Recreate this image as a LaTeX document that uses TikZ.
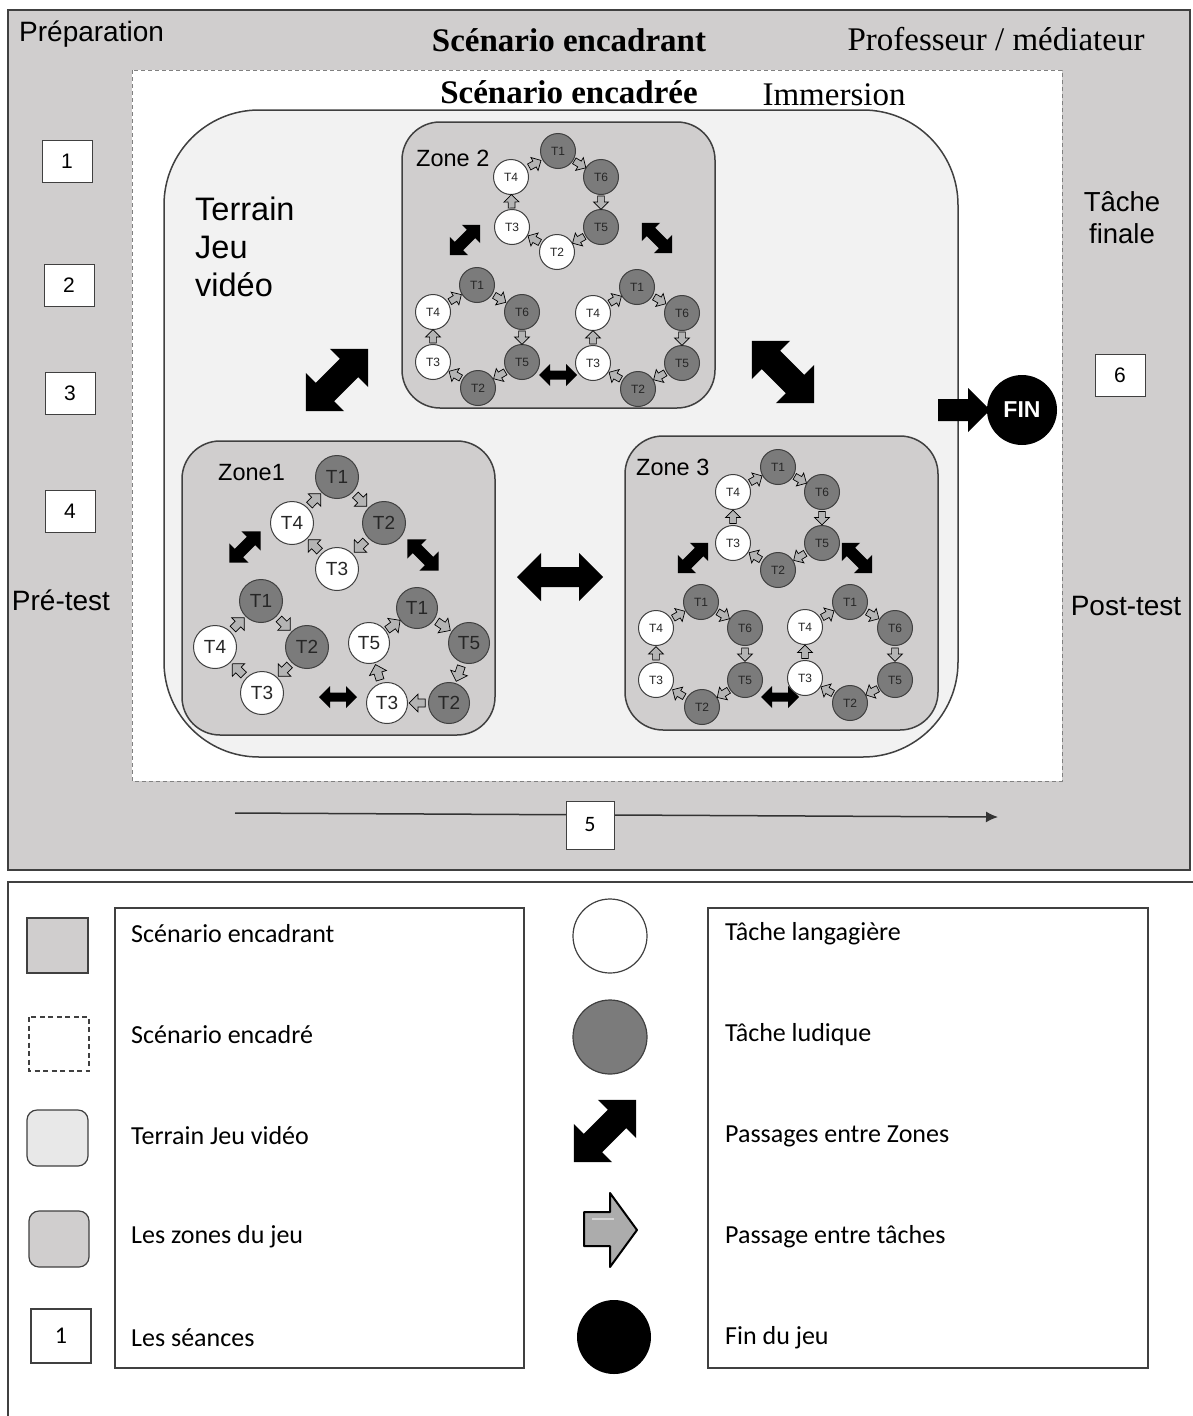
\documentclass[tikz,border=0pt]{standalone}
\usepackage{fontspec}
\setmainfont{Liberation Serif}
\newfontfamily\arialf{Liberation Sans}
\newfontfamily\calf{Carlito}
\usetikzlibrary{calc,decorations.markings,arrows.meta}
\definecolor{frameg}{HTML}{D0CECE}
\definecolor{terr}{HTML}{F2F2F2}
\definecolor{terrlg}{HTML}{E8E8E8}
\definecolor{darkt}{HTML}{7B7B7B}
\definecolor{edge}{HTML}{404040}
\definecolor{lnk}{HTML}{B4B4B4}
\newcommand\fsz[2]{\fontsize{#1}{#2}\selectfont}
\tikzset{
  task/.style={circle, draw=edge, line width=1pt, inner sep=0pt, text=black!85},
  tw/.style={task, fill=white},
  td/.style={task, fill=darkt},
  tsm/.style={minimum size=35pt, font=\arialf\fsz{12}{12}},
  tbg/.style={minimum size=43pt, font=\arialf\fsz{19}{19}},
  numbox/.style={draw=edge, fill=white, line width=1pt, minimum width=50pt, minimum height=42pt, inner sep=0pt, font=\arialf\fsz{21}{21}},
  zonebox/.style={draw=edge, fill=frameg, line width=1.5pt, rounded corners=38pt},
  lgtext/.style={anchor=west, inner sep=0pt, font=\calf\fsz{26}{26}},
}
\newcommand\tk[5]{\node[#4] (#1) at (#2,#3) {#5};}
\newcommand\tl[3][1.35]{\path[postaction={decorate},decoration={markings,mark=at position 0.5 with {\draw[draw=black,fill=lnk,line width=0.7pt,scale=#1] (-4.5pt,-2.5pt) -- (0pt,-2.5pt) -- (0pt,-5.5pt) -- (5.5pt,0pt) -- (0pt,5.5pt) -- (0pt,2.5pt) -- (-4.5pt,2.5pt) -- cycle;}}] (#2) -- (#3);}
% double block arrow: x y angle L H S
\newcommand\dbl[6]{\fill[black, shift={(#1,#2)}, rotate=#3] ({-#4/2},0) -- ({-#4/2+#5/2},{#5/2}) -- ({-#4/2+#5/2},{#6/2}) -- ({#4/2-#5/2},{#6/2}) -- ({#4/2-#5/2},{#5/2}) -- ({#4/2},0) -- ({#4/2-#5/2},{-#5/2}) -- ({#4/2-#5/2},{-#6/2}) -- ({-#4/2+#5/2},{-#6/2}) -- ({-#4/2+#5/2},{-#5/2}) -- cycle;}
\begin{document}
\begin{tikzpicture}[x=1pt,y=-1pt]
\useasboundingbox (0,0) rectangle (1192,1416);
\fill[white] (0,0) rectangle (1192,1416);
% main frame
\draw[edge, fill=frameg, line width=1.5pt] (8,10) rectangle (1190,870);
\draw[draw=gray, fill=white, line width=1pt, dash pattern=on 4pt off 3pt] (132,70) rectangle (1062,781);
\draw[edge, fill=terr, line width=1.5pt, rounded corners=95pt] (164,110) rectangle (958,757);
% titles
\node[anchor=west, inner sep=0pt, font=\arialf\fsz{28}{28}] (prep) at (19,34) {Préparation};
\node[font=\bfseries\fsz{33}{33}] (senc) at (569,40) {Scénario encadrant};
\node[font=\fsz{33}{33}] (prof) at (996,39) {Professeur / médiateur};
\node[font=\bfseries\fsz{33}{33}] (sencd) at (569,92) {Scénario encadrée};
\node[font=\fsz{33}{33}] (imm) at (834,95) {Immersion};
\node[anchor=west, inner sep=0pt, align=left, font=\arialf\fsz{32.5}{38}] (terrt) at (195,247) {Terrain\\Jeu\\vidéo};
\node[align=center, font=\arialf\fsz{27.5}{32}] (tfin) at (1122,218) {Tâche\\finale};
\node[font=\arialf\fsz{28}{28}] (pre) at (61,600) {Pré-test};
\node[font=\arialf\fsz{28}{28}] (post) at (1126,606) {Post-test};
% session boxes
\node[numbox] (s1) at (67,161) {1};
\node[numbox] (s2) at (69,285.5) {2};
\node[numbox] (s3) at (70,393) {3};
\node[numbox] (s4) at (70,511) {4};
\node[numbox] (s6) at (1120,375.5) {6};
\coordinate (tl0) at (235,813);
\coordinate (tl1) at (998,817);
\draw[line width=1.5pt, draw=black!80, -{Latex[length=12pt,width=11pt]}] (tl0) -- (tl1);
\node[numbox, minimum width=48pt, minimum height=48pt, font=\calf\fsz{22}{22}] (s5) at (590,825) {5};
% zones
\draw[zonebox] (402,122) rectangle (715,408);
\draw[zonebox] (182,441) rectangle (495,735);
\draw[zonebox] (625,436) rectangle (938,730);
\node[anchor=west, inner sep=0pt, font=\arialf\fsz{23.5}{23.5}] (z2t) at (416,158) {Zone 2};
\node[anchor=west, inner sep=0pt, font=\arialf\fsz{23.5}{23.5}] (z1t) at (218,473) {Zone1};
\node[anchor=west, inner sep=0pt, font=\arialf\fsz{23.5}{23.5}] (z3t) at (636,467) {Zone 3};
% big passages between zones
\dbl{337}{380}{45}{88}{54}{26}
\dbl{783}{372}{-45}{88}{54}{26}
\dbl{560}{577}{0}{86}{48}{20}
% end arrow and FIN
\fill[black] (938,399) -- (968,399) -- (968,388) -- (990,410) -- (968,432) -- (968,421) -- (938,421) -- cycle;
\node[circle, fill=black, minimum size=70pt, inner sep=0pt, text=white, font=\arialf\bfseries\fsz{23}{23}] (fin) at (1022,410) {FIN};
% ---------- Zone 2 ----------
\dbl{465}{240}{45}{43}{26}{12}
\dbl{657}{238}{-45}{43}{26}{12}
\dbl{558}{375}{0}{38}{22}{9}
\tk{za1}{558}{151}{td,tsm}{T1}
\tk{za6}{601}{177}{td,tsm}{T6}
\tk{za5}{601}{227}{td,tsm}{T5}
\tk{za2}{557}{252}{tw,tsm}{T2}
\tk{za3}{512}{227}{tw,tsm}{T3}
\tk{za4}{511}{177}{tw,tsm}{T4}
\tl{za1}{za6}\tl{za6}{za5}\tl{za5}{za2}\tl{za2}{za3}\tl{za3}{za4}\tl{za4}{za1}
\tk{zb1}{477}{285}{td,tsm}{T1}
\tk{zb6}{522}{312}{td,tsm}{T6}
\tk{zb5}{522}{362}{td,tsm}{T5}
\tk{zb2}{478}{388}{td,tsm}{T2}
\tk{zb3}{433}{362}{tw,tsm}{T3}
\tk{zb4}{433}{312}{tw,tsm}{T4}
\tl{zb1}{zb6}\tl{zb6}{zb5}\tl{zb5}{zb2}\tl{zb2}{zb3}\tl{zb3}{zb4}\tl{zb4}{zb1}
\tk{zc1}{637}{287}{td,tsm}{T1}
\tk{zc6}{682}{313}{td,tsm}{T6}
\tk{zc5}{682}{363}{td,tsm}{T5}
\tk{zc2}{638}{389}{td,tsm}{T2}
\tk{zc3}{593}{363}{tw,tsm}{T3}
\tk{zc4}{593}{313}{tw,tsm}{T4}
\tl{zc1}{zc6}\tl{zc6}{zc5}\tl{zc5}{zc2}\tl{zc2}{zc3}\tl{zc3}{zc4}\tl{zc4}{zc1}
% ---------- Zone 1 ----------
\dbl{245}{547}{45}{44}{27}{12}
\dbl{423}{555}{-45}{44}{27}{12}
\dbl{338}{697}{0}{38}{22}{9}
\tk{ya1}{337}{477}{td,tbg}{T1}
\tk{ya2}{384}{523}{td,tbg}{T2}
\tk{ya3}{337}{569}{tw,tbg}{T3}
\tk{ya4}{292}{523}{tw,tbg}{T4}
\tl[1.6]{ya1}{ya2}\tl[1.6]{ya2}{ya3}\tl[1.6]{ya3}{ya4}\tl[1.6]{ya4}{ya1}
\tk{yb1}{261}{601}{td,tbg}{T1}
\tk{yb2}{307}{647}{td,tbg}{T2}
\tk{yb3}{262}{693}{tw,tbg}{T3}
\tk{yb4}{215}{647}{tw,tbg}{T4}
\tl[1.6]{yb1}{yb2}\tl[1.6]{yb2}{yb3}\tl[1.6]{yb3}{yb4}\tl[1.6]{yb4}{yb1}
\tk{yc1}{417}{608}{td,tbg,minimum size=41pt}{T1}
\tk{yc5}{469}{643}{td,tbg,minimum size=41pt}{T5}
\tk{yc2}{449}{703}{td,tbg,minimum size=41pt}{T2}
\tk{yc3}{387}{703}{tw,tbg,minimum size=41pt}{T3}
\tk{yc7}{369}{643}{tw,tbg,minimum size=41pt}{T5}
\tl[1.6]{yc1}{yc5}\tl[1.6]{yc5}{yc2}\tl[1.6]{yc2}{yc3}\tl[1.6]{yc3}{yc7}\tl[1.6]{yc7}{yc1}
% ---------- Zone 3 ----------
\dbl{693}{558}{45}{43}{26}{12}
\dbl{857}{558}{-45}{43}{26}{12}
\dbl{780}{697}{0}{38}{22}{9}
\tk{xa1}{778}{467}{td,tsm}{T1}
\tk{xa6}{822}{492}{td,tsm}{T6}
\tk{xa5}{822}{543}{td,tsm}{T5}
\tk{xa2}{778}{570}{td,tsm}{T2}
\tk{xa3}{733}{543}{tw,tsm}{T3}
\tk{xa4}{733}{492}{tw,tsm}{T4}
\tl{xa1}{xa6}\tl{xa6}{xa5}\tl{xa5}{xa2}\tl{xa2}{xa3}\tl{xa3}{xa4}\tl{xa4}{xa1}
\tk{xb1}{701}{602}{td,tsm}{T1}
\tk{xb6}{745}{628}{td,tsm}{T6}
\tk{xb5}{745}{680}{td,tsm}{T5}
\tk{xb2}{702}{707}{td,tsm}{T2}
\tk{xb3}{656}{680}{tw,tsm}{T3}
\tk{xb4}{656}{628}{tw,tsm}{T4}
\tl{xb1}{xb6}\tl{xb6}{xb5}\tl{xb5}{xb2}\tl{xb2}{xb3}\tl{xb3}{xb4}\tl{xb4}{xb1}
\tk{xc1}{850}{602}{td,tsm}{T1}
\tk{xc6}{895}{628}{td,tsm}{T6}
\tk{xc5}{895}{680}{td,tsm}{T5}
\tk{xc2}{850}{703}{td,tsm}{T2}
\tk{xc3}{805}{678}{tw,tsm}{T3}
\tk{xc4}{805}{627}{tw,tsm}{T4}
\tl{xc1}{xc6}\tl{xc6}{xc5}\tl{xc5}{xc2}\tl{xc2}{xc3}\tl{xc3}{xc4}\tl{xc4}{xc1}
% ---------- Legend ----------
\draw[edge, line width=1.5pt] (8,1430) -- (8,882) -- (1200,882);
\draw[edge, line width=1.2pt] (115,908) rectangle (524,1368);
\draw[edge, line width=1.2pt] (708,908) rectangle (1148,1368);
\draw[edge, fill=frameg, line width=1.2pt] (27,918) rectangle (88,973);
\draw[edge, line width=1.2pt, dash pattern=on 5pt off 3.5pt] (29,1017) rectangle (89,1071);
\draw[edge, fill=terrlg, line width=1.2pt, rounded corners=10pt] (27,1110) rectangle (88,1166);
\draw[edge, fill=frameg, line width=1.2pt, rounded corners=10pt] (29,1211) rectangle (89,1267);
\node[draw=edge, line width=1.2pt, minimum width=60pt, minimum height=54pt, inner sep=0pt, font=\calf\fsz{24}{24}] (lg1) at (61,1336) {1};
\node[lgtext] (l1) at (131,934) {Scénario encadrant};
\node[lgtext] (l2) at (131,1035) {Scénario encadré};
\node[lgtext] (l3) at (131,1136) {Terrain Jeu vidéo};
\node[lgtext] (l4) at (131,1237) {Les zones du jeu};
\node[lgtext] (l5) at (131,1338) {Les séances};
\node[circle, draw=edge, fill=white, line width=1.2pt, minimum size=74pt] (lc1) at (610,936) {};
\node[circle, draw=edge, fill=darkt, line width=1.2pt, minimum size=74pt] (lc2) at (610,1037) {};
\dbl{605}{1131}{45}{88}{54}{26}
\draw[black, fill=gray!65, line width=2pt, line join=round] (584,1212) -- (610,1212) -- (610,1193) -- (637,1230) -- (610,1267) -- (610,1246) -- (584,1246) -- cycle;
\draw[white, opacity=0.5, line width=2pt] (592,1219) -- (614,1219);
\node[circle, fill=black, minimum size=74pt] (lc3) at (614,1337) {};
\node[lgtext] (r1) at (725,934) {Tâche langagière};
\node[lgtext] (r2) at (725,1035) {Tâche ludique};
\node[lgtext] (r3) at (725,1136) {Passages entre Zones};
\node[lgtext] (r4) at (725,1237) {Passage entre tâches};
\node[lgtext] (r5) at (725,1338) {Fin du jeu};
\end{tikzpicture}
\end{document}
